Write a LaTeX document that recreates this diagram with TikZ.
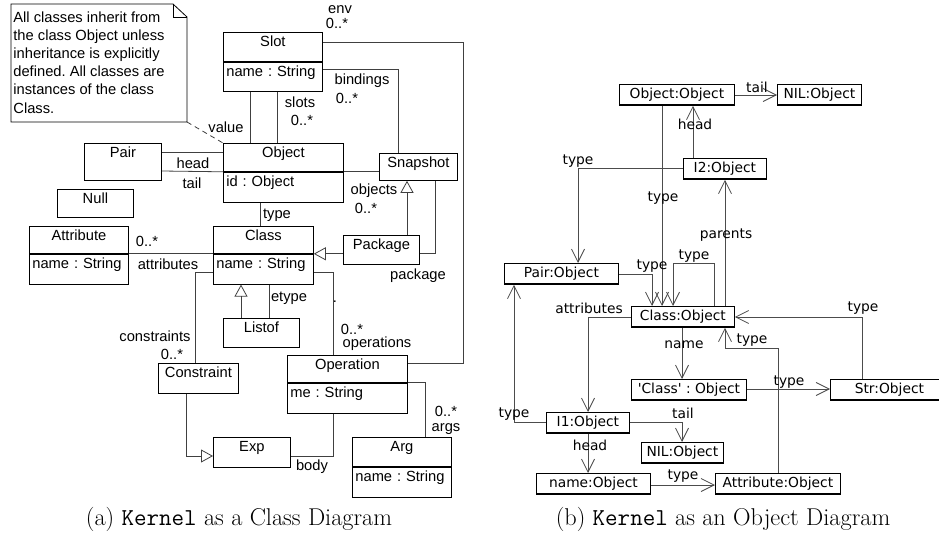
\documentclass[tikz,border=0pt]{standalone}
\usepackage{fontspec}
\newfontfamily\umlfont{Liberation Sans}
\newfontfamily\objfont{DejaVu Sans}
\newcommand\umlsize{\umlfont\fontsize{14.7pt}{18.2pt}\selectfont}
\newcommand\objsize{\objfont\fontsize{13.8pt}{16pt}\selectfont}
\usetikzlibrary{positioning,arrows.meta}
\frenchspacing
\begin{document}
\begin{tikzpicture}[x=1pt,y=-1pt,line width=0.8pt,
    cname/.style 2 args={draw,anchor=north west,minimum width=#1,inner xsep=0pt,inner ysep=2pt,
        text height=12.5pt,text depth=#2,font=\umlsize},
    cattr/.style 2 args={draw,text width=#1,align=left,inner xsep=3pt,inner ysep=2pt,
        text height=12.5pt,text depth=#2,font=\umlsize},
    role/.style={inner sep=0pt,font=\umlsize},
    assoc/.style={draw=black!75},
    inh/.style={-{Triangle[open,length=12pt,width=13pt]}},
    obj/.style={draw,anchor=north west,minimum width=#1,minimum height=21pt,inner sep=0pt,font=\objsize,
        path picture={\draw[line width=2.4pt] (path picture bounding box.south west)
            -- (path picture bounding box.south east);}},
    link/.style={draw=black!70,-{Straight Barb[length=13pt,width=13pt]}},
    lbl/.style={inner sep=0pt,font=\objsize}]
    \useasboundingbox (0,0) rectangle (939,535);
    %=========================================== (a) class diagram
    \draw (11,4) -- (173,4) -- (187,17) -- (187,122) -- (11,122) -- cycle;
    \draw (173,4) |- (187,17);
    \node[anchor=north west,align=left,inner sep=0pt,font=\umlsize] (note) at (13,11)
        {All classes inherit from\\the class Object unless\\inheritance is explicitly\\
         defined. All classes are\\instances of the class\\Class.};
    \coordinate (notec) at (187,122);
    \node[cname={99pt}{12.5pt}] (slot) at (223,32) {Slot};
    \node[cattr={93pt}{12.5pt},below=0pt of slot] (slotA) {name : String};
    \node[cname={120pt}{11.5pt}] (object) at (223,143) {Object};
    \node[cattr={114pt}{13.5pt},below=0pt of object] (objectA) {id : Object};
    \node[cname={77pt}{20.5pt}] (pair) at (84,143) {Pair};
    \node[cname={76pt}{11.5pt}] (null) at (57,189) {Null};
    \node[cname={99pt}{10.5pt}] (attribute) at (29,226) {Attribute};
    \node[cattr={93pt}{13.5pt},below=0pt of attribute] (attributeA) {name : String};
    \node[cname={100pt}{10.5pt}] (class) at (213,226) {Class};
    \node[cattr={94pt}{13.5pt},below=0pt of class] (classA) {name : String};
    \node[cname={78pt}{10.5pt}] (snapshot) at (379,153) {Snapshot};
    \node[cname={76pt}{12.5pt}] (package) at (343,235) {Package};
    \node[cname={76pt}{12.5pt}] (listof) at (223,318) {Listof};
    \node[cname={80pt}{13.5pt}] (constraint) at (158,363) {Constraint};
    \node[cname={120pt}{10.5pt}] (operation) at (287,355) {Operation};
    \node[cattr={114pt}{13.5pt},below=0pt of operation] (operationA) {me : String};
    \node[cname={77pt}{13.5pt}] (exp) at (213,437) {Exp};
    \node[cname={99pt}{12.5pt}] (arg) at (352,437) {Arg};
    \node[cattr={93pt}{13.5pt},below=0pt of arg] (argA) {name : String};
    %
    \draw[assoc] (slot.east |- 0,42) -- ++(141,0) |- (operation.east |- 0,363);
    \draw[assoc] (slotA.east |- 0,69) -| (snapshot.north -| 398,0);
    \draw[assoc] (slotA.south -| 250,0) -- (object.north -| 250,0);
    \draw[assoc] (slotA.south -| 277,0) -- (object.north -| 277,0);
    \draw[assoc] (pair.east |- 0,152) -- (object.west |- 0,152);
    \draw[assoc] (pair.east |- 0,171) -- (object.south west);
    \draw[assoc] (object.south east) -- (snapshot.west |- object.south east);
    \draw[assoc] (objectA.south -| 260,0) -- (class.north -| 260,0);
    \draw[assoc] (attribute.south east) -- (class.south west);
    \draw[assoc,inh] (package.west |- class.south east) -- (class.south east);
    \draw[assoc,inh] (package.north -| 407,0) -- (snapshot.south -| 407,0);
    \draw[assoc] (snapshot.south -| 435,0) |- (package.east |- class.south east);
    \draw[assoc,inh] (listof.north -| 241,0) -- (classA.south -| 241,0);
    \draw[assoc] (classA.south -| 269,0) -- (listof.north -| 269,0);
    \draw[assoc] (classA.west |- 0,272) -| (constraint.north -| 195,0);
    \draw[assoc] (classA.east |- 0,272) -| (operation.north -| 333,0);
    \draw[assoc,inh] (constraint.south -| 186,0) |- (exp.west |- 0,456);
    \draw[assoc] (operationA.south -| 333,0) |- (exp.east |- 0,456);
    \draw[assoc] (operationA.north east) -| (arg.north -| 425,0);
    \draw[assoc,dash pattern=on 5pt off 4pt] (notec) -- (object.north west);
    \foreach \n/\px/\py/\t in {lenv/340/10/env, lenvm/337/23/0..*, lbind/362/81/bindings,
        lbindm/347/98/0..*, lslots/300/102/slots, lslotsm/302/120/0..*, lvalue/226/127/value,
        lhead/193/163/head, ltail/192/183/tail, lobjs/374/191/objects, lobjsm/366/208/0..*,
        ltype/277/215/type, lattrm/147/241/0..*, lattr/168/264/attributes, letype/289/298/etype,
        ldot/335/302/., lopsm/352/329/0..*, lops/377/344/operations, lcons/155/336/constraints,
        lconsm/172/354/0..*, lpkg/418/276/package, lbody/312/467/body, largsm/446/411/0..*,
        largs/446/429/args}
        \node[role] (\n) at (\px,\py) {\t};
    %=========================================== (b) object diagram
    \node[obj=115pt] (oo) at (619,84) {Object:Object};
    \node[obj=84pt] (nilA) at (777,84) {NIL:Object};
    \node[obj=83pt] (i2) at (683,158) {I2:Object};
    \node[obj=114pt] (pairo) at (504,263) {Pair:Object};
    \node[obj=103pt] (classo) at (631,306) {Class:Object};
    \node[obj=115pt] (clso) at (631,379) {\textquotesingle Class\textquotesingle\ : Object};
    \node[obj=118pt] (stro) at (830,379) {Str:Object};
    \node[obj=83pt] (i1) at (546,412) {I1:Object};
    \node[obj=82pt] (nilB) at (641,442) {NIL:Object};
    \node[obj=114pt] (nameo) at (536,473) {name:Object};
    \node[obj=125pt] (attro) at (715,473) {Attribute:Object};
    %
    \draw[link] (oo.east |- 0,95) -- (nilA.west |- 0,95);
    \draw[link] (i2.north -| 693,0) -- (oo.south -| 693,0);
    \draw[link] (i2.west |- 0,168) -| (pairo.north -| 578,0);
    \draw[link] (oo.south -| 662,0) -- (classo.north -| 662,0);
    \draw[link] (pairo.east |- 0,274) -| (classo.north -| 652,0);
    \draw[link] (classo.north -| 714,0) -- ++(0,-43) -| (classo.north -| 673,0);
    \draw[link] (classo.north -| 725,0) -- (i2.south -| 725,0);
    \draw[link] (classo.west |- 0,317) -| (i1.north -| 588,0);
    \draw[link] (i1.west |- 0,422) -| (pairo.south -| 514,0);
    \draw[link] (stro.north -| 862,0) |- (classo.east |- 0,317);
    \draw[link] (classo.south -| 682,0) -- (clso.north -| 682,0);
    \draw[link] (clso.east |- 0,389) -- (stro.west |- 0,389);
    \draw[link] (attro.north -| 778,0) -- ++(0,-125) -| (classo.south -| 725,0);
    \draw[link] (i1.east |- 0,422) -| (nilB.north -| 682,0);
    \draw[link] (i1.south -| 588,0) -- (nameo.north -| 588,0);
    \draw[link] (nameo.east |- 0,485) -- (attro.west |- 0,485);
    \foreach \n/\px/\py/\t in {rtailA/757/87/tail, rheadA/695/124/head, rtypeA/578/161/type,
        rtypeB/663/198/type, rpar/726/235/parents, rtypeC/694/256/type, rtypeD/652/266/type,
        rattr/589/308/attributes, rtypeE/863/308/type, rname/684/345/name, rtypeF/752/340/type,
        rtypeG/789/382/type, rtypeH/514/414/type, rtailB/683/413/tail, rheadB/590/445/head,
        rtypeI/683/476/type}
        \node[lbl] (\n) at (\px,\py) {\t};
    %=========================================== captions
    \node[anchor=base,font=\fontsize{24.3pt}{29pt}\selectfont] (capa) at (239,525)
        {(a) \texttt{Kernel} as a Class Diagram};
    \node[anchor=base,font=\fontsize{24.3pt}{29pt}\selectfont] (capb) at (723,525)
        {(b) \texttt{Kernel} as an Object Diagram};
\end{tikzpicture}
\end{document}
